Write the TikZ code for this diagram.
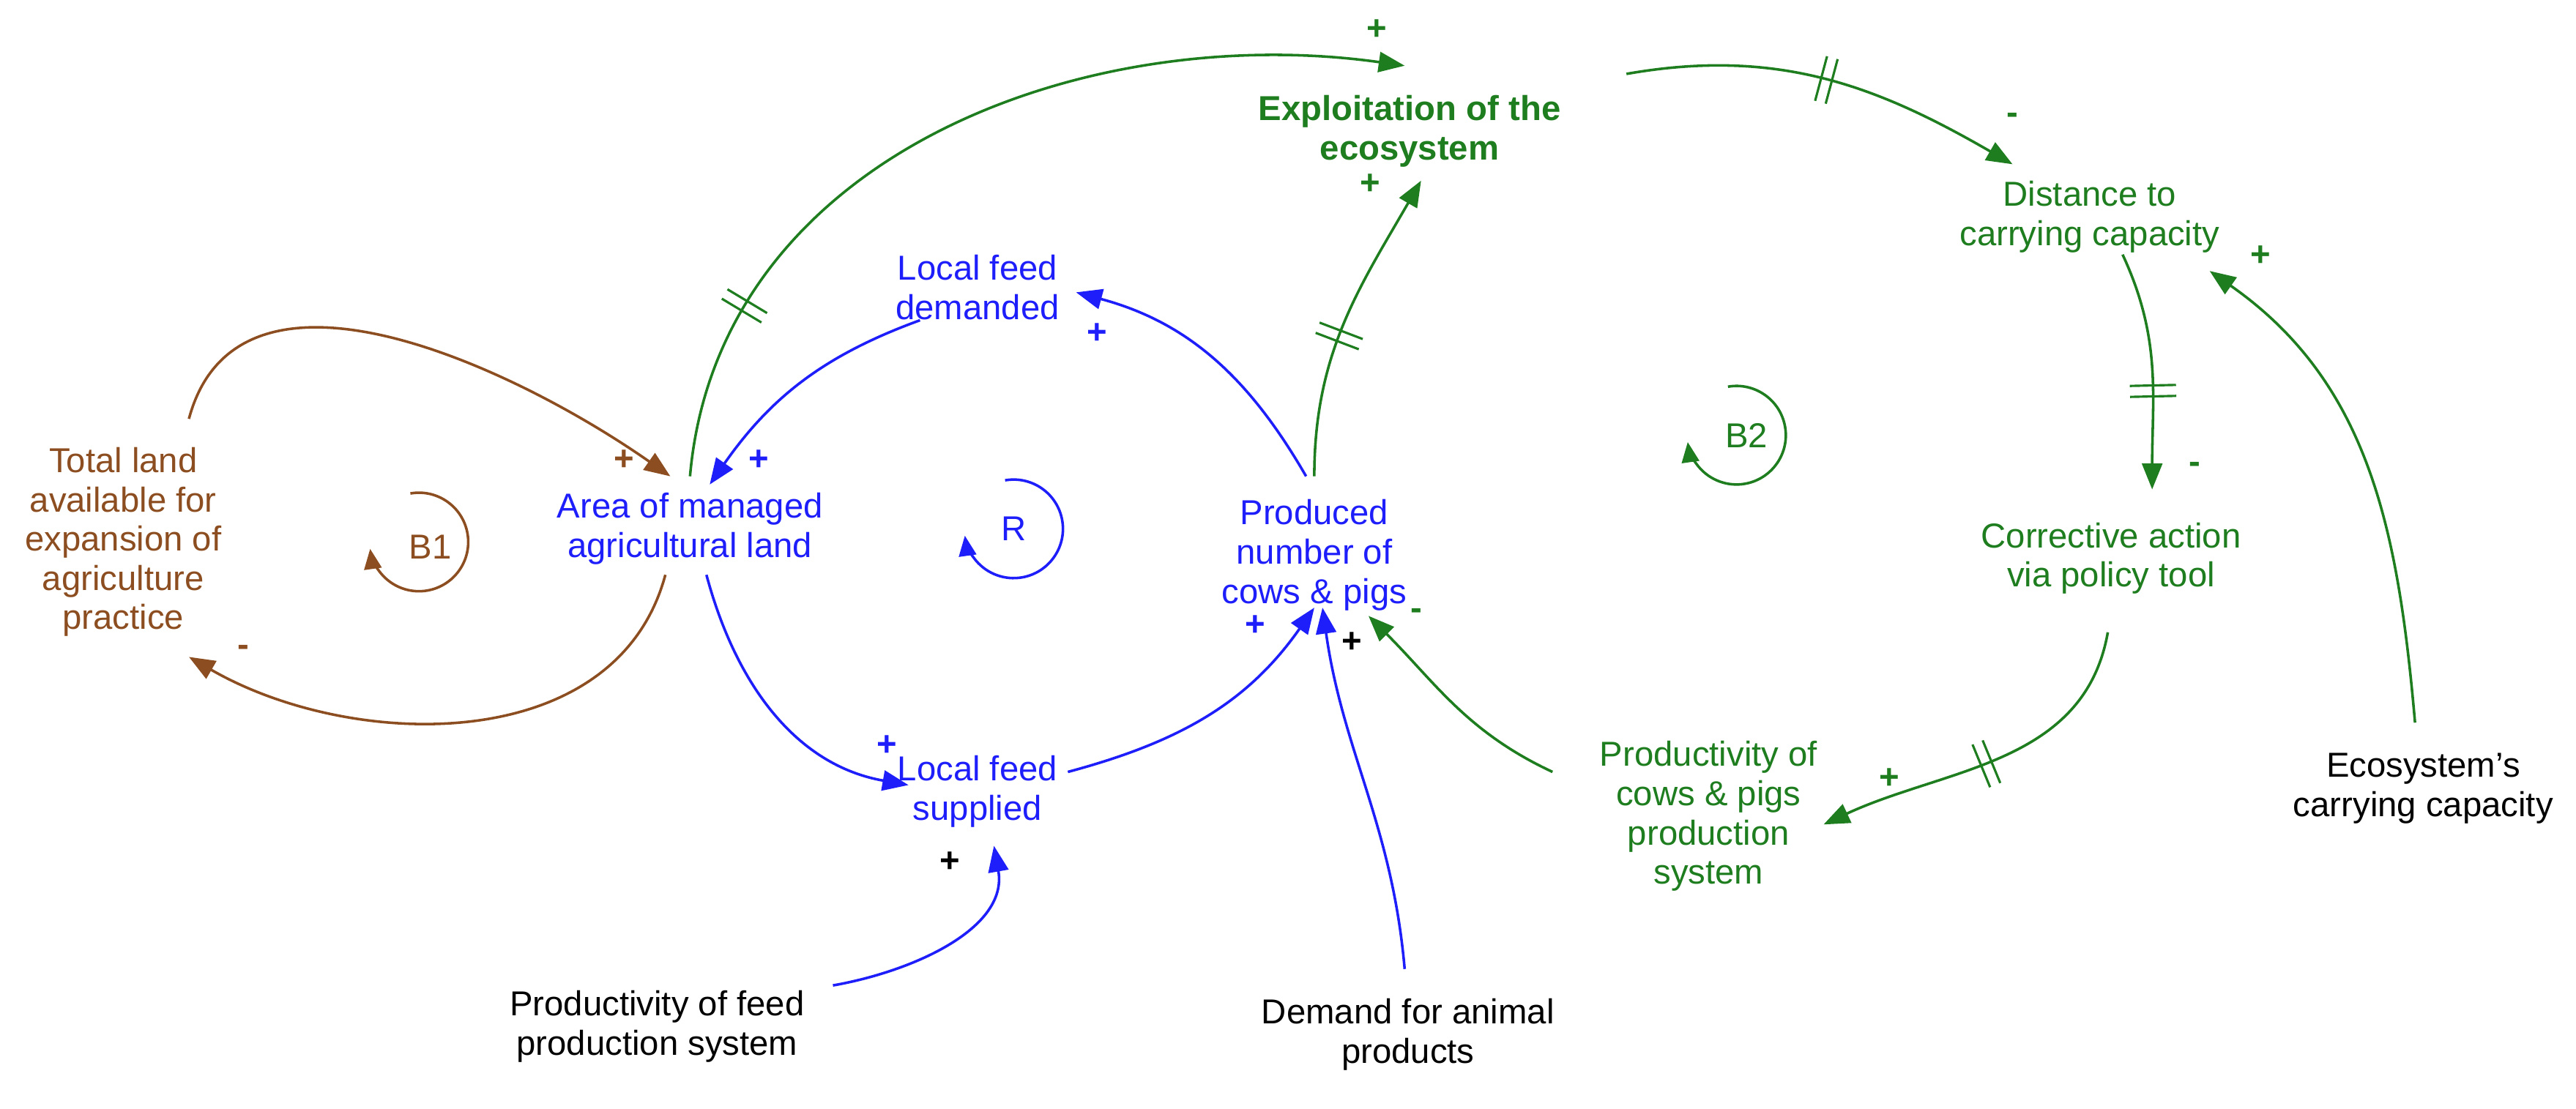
\documentclass[tikz,border=0pt]{standalone}
\usepackage{fontspec}
\setmainfont{Liberation Sans}
\usetikzlibrary{arrows.meta}
\definecolor{br}{RGB}{140,78,32}
\definecolor{bl}{RGB}{30,30,250}
\definecolor{gr}{RGB}{30,125,30}
\tikzset{
 x=0.02cm,y=0.02cm,
 lab/.style={font=\fontsize{12}{13.6}\selectfont,align=center,inner sep=1pt},
 arr/.style={line width=0.9pt,-{Triangle[length=9pt,width=7pt]}},
 sg/.style={font=\fontsize{12}{12}\selectfont\bfseries,inner sep=0pt},
 loopc/.style={line width=0.9pt,-{Triangle[length=7pt,width=6pt]}},
}
\newcommand{\hsh}{\rule{0.8pt}{16pt}\hspace{3pt}\rule{0.8pt}{16pt}}
\begin{document}
\begin{tikzpicture}
\useasboundingbox (0,0) rectangle (1568,-675);
% nodes
\node[lab,text=br] (tl) at (75,-330) {Total land\\available for\\expansion of\\agriculture\\practice};
\node[lab,text=bl] (area) at (420,-322) {Area of managed\\agricultural land};
\node[lab,text=bl] (lfd) at (595,-175) {Local feed\\demanded};
\node[lab,text=bl] (prod) at (800,-338) {Produced\\number of\\cows \& pigs};
\node[lab,text=bl] (lfs) at (595,-482) {Local feed\\supplied};
\node[lab] (pf) at (400,-625) {Productivity of feed\\production system};
\node[lab] (dem) at (857,-630) {Demand for animal\\products};
\node[lab,text=gr,font=\fontsize{12}{13.6}\selectfont\bfseries] (ex) at (858,-80) {Exploitation of the\\ecosystem};
\node[lab,text=gr] (dist) at (1272,-132) {Distance to\\carrying capacity};
\node[lab,text=gr] (corr) at (1285,-340) {Corrective action\\via policy tool};
\node[lab,text=gr] (pcp) at (1040,-497) {Productivity of\\cows \& pigs\\production\\system};
\node[lab] (eco) at (1475,-480) {Ecosystem's\\carrying capacity};
% loop markers
\node[lab,text=br] (b1) at (262,-333) {B1};
\draw[loopc,br] (255,-330) ++(100:30) arc[start angle=100,end angle=-172,radius=30];
\node[lab,text=bl] (r) at (617,-322) {R};
\draw[loopc,bl] (617,-322) ++(100:30) arc[start angle=100,end angle=-172,radius=30];
\node[lab,text=gr] (b2) at (1063,-265) {B2};
\draw[loopc,gr] (1057,-265) ++(100:30) arc[start angle=100,end angle=-172,radius=30];
% brown
\draw[arr,br] ([shift={(40,75)}]tl.center) to[out=75,in=145] ([shift={(-12,32)}]area.center);
\node[sg,text=br] at (380,-280) {+};
\draw[arr,br] ([shift={(-15,-28)}]area.center) to[out=-105,in=-30] ([shift={(40,-70)}]tl.center);
\node[sg,text=br] at (148,-396) {-};
% green
\draw[arr,gr] ([shift={(0,32)}]area.center) to[out=85,in=172] node[pos=0.2,sloped,text=gr]{\hsh} ([shift={(-3,40)}]ex.center);
\node[sg,text=gr] at (838,-18) {+};
\draw[arr,gr] ([shift={(0,48)}]prod.center) to[out=90,in=-120] node[pos=0.45,sloped,text=gr]{\hsh} ([shift={(7,-30)}]ex.center);
\node[sg,text=gr] at (834,-112) {+};
\draw[arr,gr] ([shift={(132,35)}]ex.center) to[out=10,in=150] node[pos=0.5,sloped,text=gr]{\hsh} ([shift={(-47,32)}]dist.center);
\node[sg,text=gr] at (1225,-72) {-};
\draw[arr,gr] ([shift={(20,-23)}]dist.center) to[out=-65,in=90] node[pos=0.6,sloped,text=gr]{\hsh} ([shift={(25,42)}]corr.center);
\node[sg,text=gr] at (1336,-285) {-};
\draw[arr,gr] ([shift={(-2,-45)}]corr.center) to[out=-100,in=25] node[pos=0.55,sloped,text=gr]{\hsh} ([shift={(70,-5)}]pcp.center);
\node[sg,text=gr] at (1150,-474) {+};
\draw[arr,gr] ([shift={(-5,40)}]eco.center) to[out=95,in=-35] ([shift={(73,-33)}]dist.center);
\node[sg,text=gr] at (1376,-156) {+};
\draw[arr,gr] ([shift={(-95,27)}]pcp.center) to[out=155,in=-45] ([shift={(33,-37)}]prod.center);
\node[sg,text=gr] at (862,-374) {-};
% blue
\draw[arr,bl] ([shift={(-35,-20)}]lfd.center) to[out=-160,in=55] ([shift={(12,27)}]area.center);
\node[sg,text=bl] at (462,-280) {+};
\draw[arr,bl] ([shift={(-5,48)}]prod.center) to[out=120,in=-15] ([shift={(60,-3)}]lfd.center);
\node[sg,text=bl] at (668,-203) {+};
\draw[arr,bl] ([shift={(10,-28)}]area.center) to[out=-75,in=170] ([shift={(-42,4)}]lfs.center);
\node[sg,text=bl] at (540,-454) {+};
\draw[arr,bl] ([shift={(55,12)}]lfs.center) to[out=15,in=-125] ([shift={(0,-32)}]prod.center);
\node[sg,text=bl] at (764,-381) {+};
% black inputs
\draw[arr,bl] ([shift={(107,25)}]pf.center) to[out=10,in=-80] ([shift={(10,-33)}]lfs.center);
\node[sg] at (578,-525) {+};
\draw[arr,bl] ([shift={(-2,40)}]dem.center) to[out=95,in=-82] ([shift={(5,-32)}]prod.center);
\node[sg] at (823,-391) {+};
\end{tikzpicture}
\end{document}
